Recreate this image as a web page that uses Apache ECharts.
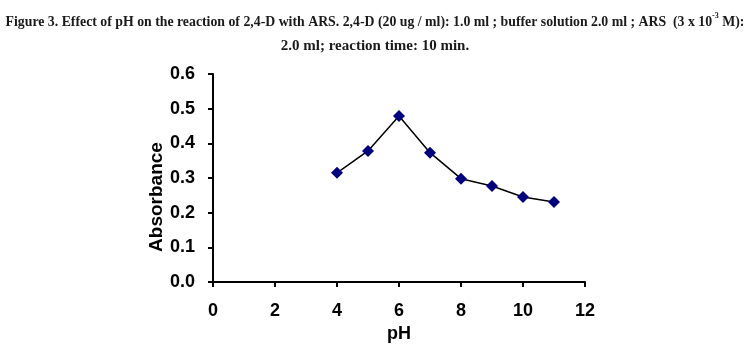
<!DOCTYPE html>
<html>
<head>
<meta charset="utf-8">
<script src="https://cdn.jsdelivr.net/npm/echarts@6/dist/echarts.min.js"></script>
<style>html,body{margin:0;padding:0;background:#fff;}#c{width:750px;height:350px;}</style>
</head>
<body>
<div id="c"></div>
<script>
var pH = [4, 5, 6, 7, 8, 9, 10, 11];
var absorbance = [0.315, 0.378, 0.479, 0.373, 0.298, 0.277, 0.245, 0.231];
var xTicks = [0, 2, 4, 6, 8, 10, 12];
var yTicks = [0.0, 0.1, 0.2, 0.3, 0.4, 0.5, 0.6];

var chart = echarts.init(document.getElementById('c'));
var serif = '"Liberation Serif", "DejaVu Serif", serif';
var sans = '"Liberation Sans", Arial, sans-serif';
chart.setOption({
  animation: false,
  backgroundColor: '#fff',
  title: [{
    text: '{t|Figure 3. Effect of pH on the reaction of 2,4-D with ARS. 2,4-D (20 ug / ml): 1.0 ml ; buffer solution 2.0 ml ; ARS  (3 x 10}{s|-3}{t| M):}',
    left: 'center', top: 7,
    textStyle: {
      rich: {
        t: {fontFamily: serif, fontSize: 13.8, fontWeight: 'bold', color: '#1a1a1a', lineHeight: 20},
        s: {fontFamily: serif, fontSize: 8, fontWeight: 'bold', color: '#1a1a1a', lineHeight: 20, verticalAlign: 'top', padding: [0,0,6,0]}
      }
    }
  }, {
    text: '2.0 ml; reaction time: 10 min.',
    left: 'center', top: 34,
    textStyle: {fontFamily: serif, fontSize: 15, fontWeight: 'bold', color: '#1a1a1a'}
  }],
  grid: {left: 213, right: 165, top: 74, bottom: 68, containLabel: false},
  xAxis: {
    type: 'value', min: 0, max: 12, interval: 2,
    name: 'pH', nameLocation: 'middle', nameGap: 41,
    nameTextStyle: {fontFamily: sans, fontSize: 18, fontWeight: 'bold', color: '#000'},
    axisLine: {show: true, lineStyle: {color: '#000', width: 2}},
    axisTick: {show: true, inside: false, length: 5, lineStyle: {color: '#000', width: 2}},
    axisLabel: {margin: 20, fontFamily: sans, fontSize: 18, fontWeight: 'bold', color: '#000',
      formatter: function (v) { return xTicks.indexOf(v) >= 0 ? String(v) : ''; }},
    splitLine: {show: false}
  },
  yAxis: {
    type: 'value', min: 0, max: 0.6, interval: 0.1,
    name: 'Absorbance', nameLocation: 'middle', nameGap: 40, nameRotate: 90,
    nameTextStyle: {fontFamily: sans, fontSize: 19, fontWeight: 'bold', color: '#000', padding: [0, 38, 0, 0]},
    axisLine: {show: true, lineStyle: {color: '#000', width: 2}},
    axisTick: {show: true, inside: false, length: 5, lineStyle: {color: '#000', width: 2}},
    axisLabel: {margin: 18, fontFamily: sans, fontSize: 18, fontWeight: 'bold', color: '#000',
      formatter: function (v) { return v.toFixed(1); }},
    splitLine: {show: false}
  },
  series: [{
    type: 'line',
    data: pH.map(function (x, i) { return [x, absorbance[i]]; }),
    symbol: 'diamond', symbolSize: 12,
    itemStyle: {color: '#000080'},
    lineStyle: {color: '#000', width: 1.5},
    z: 3
  }]
});
</script>
</body>
</html>
